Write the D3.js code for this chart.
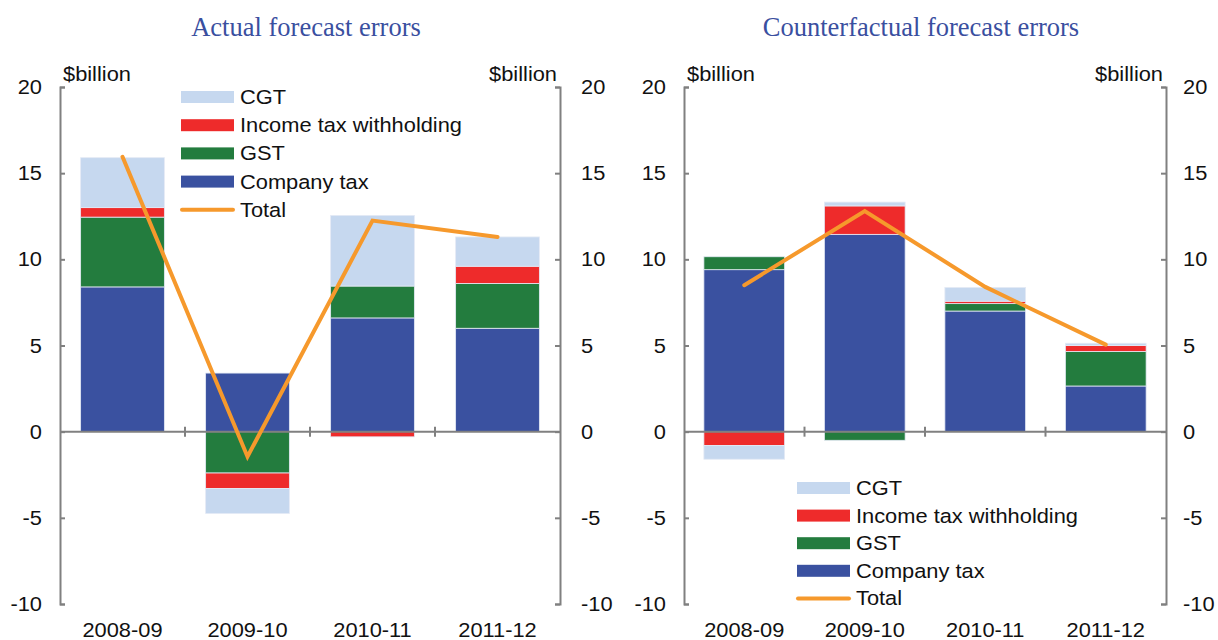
<!DOCTYPE html>
<html>
<head>
<meta charset="utf-8">
<script src="https://cdn.jsdelivr.net/npm/d3@7"></script>
<style>
  body { margin: 0; background: #fff; }
  text { font-family: "Liberation Sans", Arial, sans-serif; }
</style>
</head>
<body>
<div id="chart-area"></div>
<script>
const W = 1218, H = 640

const years = ["2008-09", "2009-10", "2010-11", "2011-12"]
const seriesNames = ["Company tax", "GST", "Income tax withholding", "CGT"]
const legendOrder = ["CGT", "Income tax withholding", "GST", "Company tax"]
const yTicks = [-10, -5, 0, 5, 10, 15, 20]

// actual forecast errors ($billion)
const actualCompany = [8.4, 3.4, 6.6, 6.0]
const actualGST = [4.05, -2.4, 1.85, 2.6]
const actualITW = [0.55, -0.9, -0.3, 1.0]
const actualCGT = [2.9, -1.45, 4.1, 1.7]
const actualTotal = [15.95, -1.45, 12.25, 11.3]

// counterfactual forecast errors ($billion)
const cfCompany = [9.4, 11.45, 7.0, 2.65]
const cfGST = [0.75, -0.5, 0.43, 2.0]
const cfITW = [-0.8, 1.65, 0.14, 0.35]
const cfCGT = [-0.8, 0.22, 0.8, 0.13]
const cfTotal = [8.5, 12.8, 8.4, 5.05]

const colors = {
  "Company tax": "#3a51a0",
  "GST": "#237c3e",
  "Income tax withholding": "#ee2b2b",
  "CGT": "#c6d8ef"
}
const LINE_COLOR = "#f6992c"
const AXIS_COLOR = "#808080"
const FONT_SIZE = "19.5px"
const STRETCH = 1.12   // the original text is a bit wider than Liberation Sans

const svg = d3.select("#chart-area").append("svg")
  .attr("width", W)
  .attr("height", H)

// sans text, stretched horizontally around its anchor point
function label(parent, x, y, str, anchor) {
  return parent.append("text")
    .attr("transform", `translate(${x},${y}) scale(${STRETCH},1)`)
    .attr("text-anchor", anchor || "start")
    .attr("font-size", FONT_SIZE)
    .attr("fill", "#111")
    .text(str)
}

function drawPanel(p) {
  const x = d3.scaleBand()
    .domain(years)
    .range([p.left, p.right])
    .paddingInner(0.33)
    .paddingOuter(0.165)

  const y = d3.scaleLinear()
    .domain([-10, 20])
    .range([604, 87])

  const rows = years.map((yr, i) => ({
    year: yr,
    "Company tax": p.company[i],
    "GST": p.gst[i],
    "Income tax withholding": p.itw[i],
    "CGT": p.cgt[i]
  }))

  const stacked = d3.stack()
    .keys(seriesNames)
    .offset(d3.stackOffsetDiverging)(rows)

  const g = svg.append("g")

  // title
  g.append("text")
    .attr("x", (p.left + p.right) / 2 - 4)
    .attr("y", 36)
    .attr("text-anchor", "middle")
    .style("font-family", "'Liberation Serif', 'Times New Roman', serif")
    .attr("font-size", "26.5px")
    .attr("fill", "#3a4f9f")
    .text(p.title)

  // bars
  stacked.forEach(s => {
    g.append("g").selectAll("rect")
      .data(s)
      .enter().append("rect")
        .attr("x", d => x(d.data.year))
        .attr("width", x.bandwidth())
        .attr("y", d => y(Math.max(d[0], d[1])))
        .attr("height", d => Math.abs(y(d[0]) - y(d[1])))
        .attr("fill", colors[s.key])
        .attr("stroke", "#e4eaf5")
        .attr("stroke-width", 0.8)
  })

  // left and right y axes
  const leftAxis = d3.axisRight(y).tickValues(yTicks).tickSize(5).tickFormat("")
  const rightAxis = d3.axisLeft(y).tickValues(yTicks).tickSize(5).tickFormat("")
  const la = g.append("g").attr("transform", `translate(${p.left},0)`).call(leftAxis)
  const ra = g.append("g").attr("transform", `translate(${p.right},0)`).call(rightAxis)
  ;[la, ra].forEach(a => {
    a.select(".domain").attr("stroke", AXIS_COLOR).attr("stroke-width", 2)
    a.selectAll(".tick line").attr("stroke", AXIS_COLOR).attr("stroke-width", 2)
  })

  // tick labels
  yTicks.forEach(d => {
    label(g, p.left - 18, y(d) + 7, d, "end")
    label(g, p.right + p.rightGap, y(d) + 7, d, "start")
  })

  // $billion labels
  label(g, p.left + 3, 81, "$billion", "start")
  label(g, p.right - 3, 81, "$billion", "end")

  // zero axis with category ticks
  const xTickPos = years.map(d => x(d) - x.step() * x.paddingInner() / 2)
  g.append("line")
    .attr("x1", p.left).attr("x2", p.right)
    .attr("y1", y(0)).attr("y2", y(0))
    .attr("stroke", AXIS_COLOR)
    .attr("stroke-width", 2)
  g.append("g").selectAll("line")
    .data(xTickPos.slice(1))
    .enter().append("line")
      .attr("x1", d => d).attr("x2", d => d)
      .attr("y1", y(0) - 5).attr("y2", y(0) + 5)
      .attr("stroke", AXIS_COLOR)
      .attr("stroke-width", 2)

  // x labels
  years.forEach(d => label(g, x(d) + x.bandwidth() / 2, 637, d, "middle"))

  // total line
  const line = d3.line()
    .x((d, i) => x(years[i]) + x.bandwidth() / 2)
    .y(d => y(d))
  g.append("path")
    .datum(p.total)
    .attr("d", line)
    .attr("fill", "none")
    .attr("stroke", LINE_COLOR)
    .attr("stroke-width", 4)
    .attr("stroke-linecap", "round")

  // legend
  const lg = g.append("g").attr("transform", `translate(${p.legendX},${p.legendY})`)
  legendOrder.forEach((name, i) => {
    lg.append("rect")
      .attr("x", 0)
      .attr("y", i * p.legendStep - 6)
      .attr("width", 53)
      .attr("height", 12)
      .attr("fill", colors[name])
    label(lg, 59, i * p.legendStep + 7, name, "start")
  })
  const li = legendOrder.length
  lg.append("line")
    .attr("x1", 1).attr("x2", 52)
    .attr("y1", li * p.legendStep).attr("y2", li * p.legendStep)
    .attr("stroke", LINE_COLOR)
    .attr("stroke-width", 4)
    .attr("stroke-linecap", "round")
  label(lg, 59, li * p.legendStep + 7, "Total", "start")
}

drawPanel({
  title: "Actual forecast errors",
  left: 60, right: 560, rightGap: 21,
  company: actualCompany, gst: actualGST, itw: actualITW, cgt: actualCGT, total: actualTotal,
  legendX: 181, legendY: 97, legendStep: 28.2
})

drawPanel({
  title: "Counterfactual forecast errors",
  left: 684, right: 1166, rightGap: 17,
  company: cfCompany, gst: cfGST, itw: cfITW, cgt: cfCGT, total: cfTotal,
  legendX: 797, legendY: 488, legendStep: 27.6
})
</script>
</body>
</html>
